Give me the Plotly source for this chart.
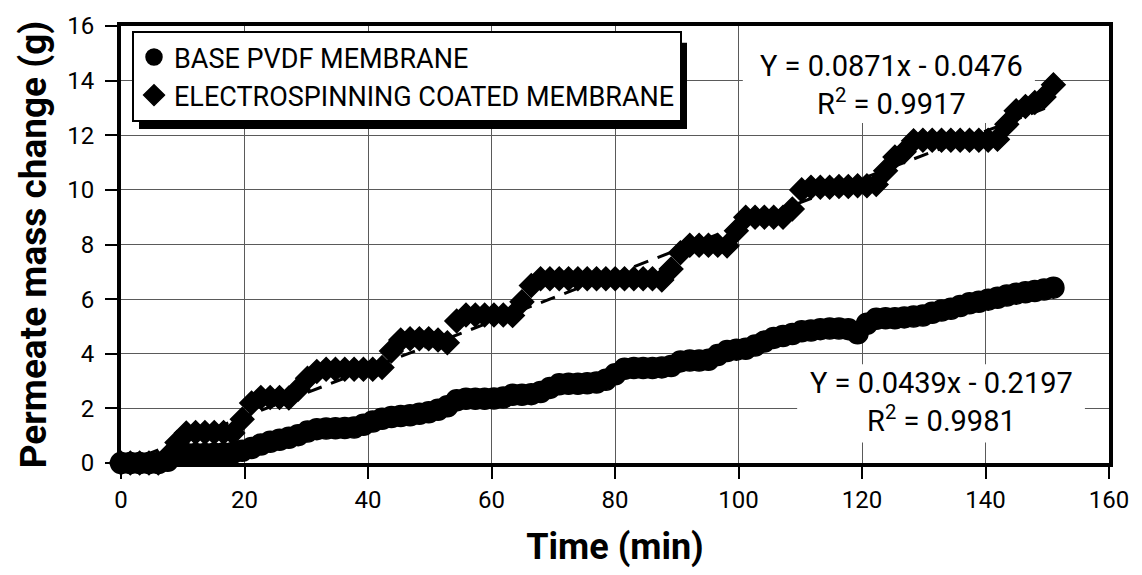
import plotly.graph_objects as go

# sampling times (min), ~1.5 min interval
time_min = [round(i * 1.51, 2) for i in range(101)]

base_pvdf = [
    0, 0, 0, 0, 0, 0.08, 0.30, 0.33, 0.33, 0.33,
    0.34, 0.35, 0.37, 0.45, 0.55, 0.68, 0.78, 0.85, 0.92, 1.02,
    1.15, 1.24, 1.26, 1.27, 1.28, 1.30, 1.40, 1.52, 1.62, 1.68,
    1.72, 1.75, 1.80, 1.86, 1.95, 2.08, 2.30, 2.35, 2.35, 2.35,
    2.36, 2.40, 2.50, 2.50, 2.52, 2.60, 2.75, 2.88, 2.90, 2.90,
    2.92, 2.95, 3.05, 3.25, 3.45, 3.48, 3.48, 3.48, 3.50, 3.55,
    3.72, 3.75, 3.75, 3.78, 3.95, 4.10, 4.15, 4.18, 4.30, 4.45,
    4.58, 4.65, 4.72, 4.82, 4.85, 4.90, 4.92, 4.92, 4.90, 4.75,
    5.10, 5.28, 5.30, 5.30, 5.33, 5.36, 5.40, 5.50, 5.58, 5.65,
    5.75, 5.85, 5.90, 5.98, 6.05, 6.13, 6.20, 6.25, 6.30, 6.35,
    6.42,
]

electrospun = [
    0, 0, 0, 0, 0, 0.25, 0.75, 1.10, 1.12, 1.12,
    1.12, 1.12, 1.10, 1.60, 2.20, 2.40, 2.40, 2.40, 2.38, 2.70,
    3.10, 3.35, 3.43, 3.43, 3.43, 3.43, 3.43, 3.43, 3.50, 4.10,
    4.50, 4.55, 4.55, 4.55, 4.50, 4.40, 5.20, 5.42, 5.42, 5.42,
    5.42, 5.42, 5.40, 5.90, 6.50, 6.75, 6.75, 6.75, 6.75, 6.75,
    6.75, 6.75, 6.75, 6.75, 6.75, 6.75, 6.75, 6.75, 6.70, 7.10,
    7.70, 7.97, 7.97, 7.97, 7.97, 7.95, 8.50, 9.00, 9.00, 9.00,
    9.00, 9.00, 9.30, 10.00, 10.10, 10.10, 10.10, 10.12, 10.12, 10.15,
    10.15, 10.20, 10.70, 11.20, 11.40, 11.80, 11.82, 11.82, 11.82, 11.82,
    11.82, 11.82, 11.82, 11.82, 11.85, 12.40, 12.90, 13.05, 13.20, 13.40,
    13.85,
]

# linear trendline coefficients (slope, intercept)
fit_base = (0.0439, -0.2197)
fit_es = (0.0871, -0.0476)
fit_x = [0, 151]

series_names = ["BASE PVDF MEMBRANE", "ELECTROSPINNING COATED MEMBRANE"]
x_ticks = [0, 20, 40, 60, 80, 100, 120, 140, 160]
y_ticks = [0, 2, 4, 6, 8, 10, 12, 14, 16]

FONT = "Roboto, Liberation Sans, sans-serif"

fig = go.Figure()

for (m, b) in (fit_base, fit_es):
    fig.add_trace(go.Scatter(
        x=fit_x, y=[m * v + b for v in fit_x], mode="lines",
        line=dict(color="black", width=3, dash="15px,10px"),
        showlegend=False, hoverinfo="skip"))

fig.add_trace(go.Scatter(
    x=time_min, y=base_pvdf, mode="markers", name=series_names[0],
    marker=dict(symbol="circle", size=21, color="black",
                line=dict(color="black", width=1.5)),
    cliponaxis=False))
fig.add_trace(go.Scatter(
    x=time_min, y=electrospun, mode="markers", name=series_names[1],
    marker=dict(symbol="diamond", size=18, color="black",
                line=dict(color="black", width=1.5)),
    cliponaxis=False))

axis_common = dict(
    showline=True, linewidth=4, linecolor="black", mirror=True,
    ticks="outside", ticklen=12, tickwidth=2, tickcolor="black",
    showgrid=True, gridcolor="#5a5a5a", gridwidth=1.2,
    zeroline=False,
    tickfont=dict(family=FONT, size=24, color="black"),
)

fig.update_xaxes(range=[0, 160], tickvals=x_ticks,
                 ticktext=[str(v) for v in x_ticks],
                 title=dict(text="<b>Time (min)</b>",
                            font=dict(family=FONT, size=36, color="black"),
                            standoff=22),
                 **axis_common)
fig.update_yaxes(range=[0, 16], tickvals=y_ticks,
                 ticktext=[str(v) for v in y_ticks],
                 ticklabelstandoff=6,
                 title=dict(text="<b>Permeate mass change (g)</b>",
                            font=dict(family=FONT, size=37, color="black"),
                            standoff=10),
                 **axis_common)

# legend shadow
fig.add_shape(type="rect", xref="paper", yref="paper",
              x0=(139 - 121) / 988, x1=(687 - 121) / 988,
              y0=(463 - 126) / 441, y1=(463 - 39) / 441,
              fillcolor="black", line=dict(width=0), layer="above")

# white label backgrounds (between gridlines and data)
fig.add_shape(type="rect", xref="x", yref="y", x0=100.7, x1=148.0,
              y0=12.45, y1=16, fillcolor="white", line=dict(width=0),
              layer="between")
fig.add_shape(type="rect", xref="x", yref="y", x0=109.5, x1=156.1,
              y0=0.75, y1=3.62, fillcolor="white", line=dict(width=0),
              layer="between")

fig.add_annotation(x=124.7, y=13.84, xref="x", yref="y",
                   text="Y = 0.0871x - 0.0476<br>R<sup>2</sup> = 0.9917",
                   showarrow=False,
                   font=dict(family=FONT, size=29, color="black"))
fig.add_annotation(x=132.8, y=2.22, xref="x", yref="y",
                   text="Y = 0.0439x - 0.2197<br>R<sup>2</sup> = 0.9981",
                   showarrow=False,
                   font=dict(family=FONT, size=29, color="black"))

fig.update_layout(
    width=1142, height=575,
    margin=dict(l=121, r=33, t=22, b=112),
    plot_bgcolor="white", paper_bgcolor="white",
    font=dict(family=FONT, color="black"),
    legend=dict(x=(132 - 121) / 988, y=(463 - 27) / 441,
                xanchor="left", yanchor="top",
                bgcolor="white", bordercolor="black", borderwidth=2,
                font=dict(family=FONT, size=27, color="black"),
                tracegroupgap=0, itemwidth=30),
    showlegend=True,
)

fig.write_html("out.html")
